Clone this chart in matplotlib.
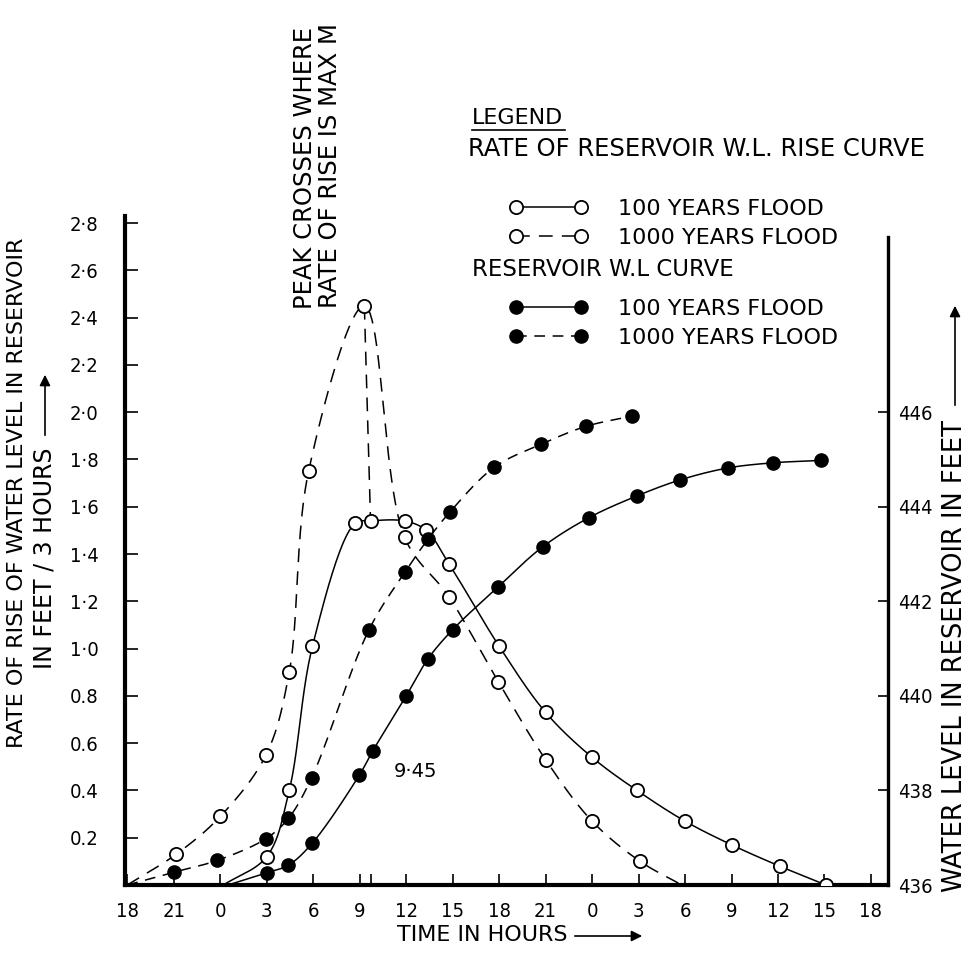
import numpy as np
import matplotlib.pyplot as plt
from matplotlib.lines import Line2D
from matplotlib.legend_handler import HandlerLine2D

plt.rcParams['font.family'] = ['DejaVu Sans']

# time axis in hours counted from 18:00 of the first day
hour_ticks = np.arange(0, 49, 3)
hour_labels = ['18', '21', '0', '3', '6', '9', '12', '15', '18',
               '21', '0', '3', '6', '9', '12', '15', '18']
rate_ticks = np.round(np.arange(0.2, 2.81, 0.2), 1)
rate_labels = ['0.2', '0.4', '0.6', '0.8', '1·0', '1·2', '1·4', '1·6',
               '1·8', '2·0', '2·2', '2·4', '2·6', '2·8']
level_ticks = [436, 438, 440, 442, 444, 446]

# rate of rise of water level, ft / 3 hours
t_rate100 = [6.2, 9.0, 10.45, 11.95, 14.7, 15.7, 17.9, 19.3, 20.75, 24.0,
             27.0, 30.0, 32.9, 36.0, 39.0, 42.1, 45.1]
rate100 = [0.0, 0.12, 0.40, 1.01, 1.53, 1.54, 1.54, 1.50, 1.36, 1.01,
           0.73, 0.54, 0.40, 0.27, 0.17, 0.08, 0.0]
t_rate1000 = [0.0, 3.15, 6.0, 8.95, 10.45, 11.7, 15.3, 17.9, 20.75, 23.95,
              27.0, 30.0, 33.1, 35.8]
rate1000 = [0.0, 0.13, 0.29, 0.55, 0.90, 1.75, 2.45, 1.47, 1.22, 0.86,
            0.53, 0.27, 0.10, 0.0]

# reservoir water level, ft
t_wl100 = [6.5, 9.0, 10.4, 11.95, 14.97, 15.85, 18.0, 19.4, 21.0, 23.95,
           26.8, 29.8, 32.9, 35.7, 38.75, 41.7, 44.75]
wl100 = [436.0, 436.26, 436.42, 436.89, 438.32, 438.84, 440.0, 440.78,
         441.40, 442.31, 443.15, 443.77, 444.23, 444.57, 444.82, 444.93, 444.98]
t_wl1000 = [0.0, 3.0, 5.8, 8.95, 10.4, 11.9, 15.6, 17.9, 19.4, 20.8,
            23.7, 26.7, 29.6, 32.6]
wl1000 = [436.0, 436.27, 436.52, 436.98, 437.41, 438.27, 441.40, 442.61,
          443.31, 443.88, 444.84, 445.32, 445.70, 445.92]

W, H = 975, 955


def px(x, y):
    return x / W, 1 - y / H


def smooth(x, y, sx, sy, n=24):
    # centripetal catmull-rom through the points (hand drawn look)
    P = np.column_stack([np.asarray(x, float) * sx, np.asarray(y, float) * sy])
    P = np.vstack([2 * P[0] - P[1], P, 2 * P[-1] - P[-2]])
    out = []
    for i in range(1, len(P) - 2):
        p0, p1, p2, p3 = P[i - 1], P[i], P[i + 1], P[i + 2]
        t0 = 0.0
        t1 = t0 + np.linalg.norm(p1 - p0) ** 0.5
        t2 = t1 + np.linalg.norm(p2 - p1) ** 0.5
        t3 = t2 + np.linalg.norm(p3 - p2) ** 0.5
        t = np.linspace(t1, t2, n, endpoint=False)[:, None]
        a1 = (t1 - t) / (t1 - t0) * p0 + (t - t0) / (t1 - t0) * p1
        a2 = (t2 - t) / (t2 - t1) * p1 + (t - t1) / (t2 - t1) * p2
        a3 = (t3 - t) / (t3 - t2) * p2 + (t - t2) / (t3 - t2) * p3
        b1 = (t2 - t) / (t2 - t0) * a1 + (t - t0) / (t2 - t0) * a2
        b2 = (t3 - t) / (t3 - t1) * a2 + (t - t1) / (t3 - t1) * a3
        out.append((t2 - t) / (t2 - t1) * b1 + (t - t1) / (t2 - t1) * b2)
    out.append(P[-2][None])
    out = np.vstack(out)
    return out[:, 0] / sx, out[:, 1] / sy


fig = plt.figure(figsize=(W / 100, H / 100), dpi=100)
fig.patch.set_facecolor('white')
l, b = px(125, 885)
ax = fig.add_axes([l, b, (888 - 125) / W, (885 - 216) / H])
ax.set_xlim(-0.15, 49.1)
ax.set_ylim(0, 2.83)
ax2 = ax.twinx()
ax2.set_ylim(436, 436 + 2.83 * 5)

sx = 15.49
sy = 236.4

open_m = dict(marker='o', ls='none', mfc='white', mec='black', mew=1.3, ms=9.5, zorder=4)
fill_m = dict(marker='o', ls='none', mfc='black', mec='black', mew=1.0, ms=9.5, zorder=4)

xs, ys = smooth(t_rate100, rate100, sx, sy)
l1, = ax.plot(xs, ys, '-', color='black', lw=1.1)
m1, = ax.plot(t_rate100[1:], rate100[1:], **open_m)

xs, ys = smooth(t_rate1000, rate1000, sx, sy)
l2, = ax.plot(xs, ys, color='black', lw=1.1, ls=(0, (9, 6)))
m2, = ax.plot(t_rate1000[1:-1], rate1000[1:-1], **open_m)

# peak of 1000 years flood dropped onto 100 years curve
i_pk = int(np.argmax(rate1000))
i_mx = 5
ax.plot([t_rate1000[i_pk], t_rate100[i_mx]], [rate1000[i_pk], rate100[i_mx]],
        color='black', lw=1.1, ls=(0, (9, 6)), zorder=2)

xs, ys = smooth(t_wl100, wl100, sx, sy / 5)
l3, = ax2.plot(xs, ys, '-', color='black', lw=1.1)
m3, = ax2.plot(t_wl100[1:], wl100[1:], **fill_m)

xs, ys = smooth(t_wl1000, wl1000, sx, sy / 5)
l4, = ax2.plot(xs, ys, color='black', lw=1.1, ls=(0, (7, 5)))
m4, = ax2.plot(t_wl1000[1:], wl1000[1:], **fill_m)

ax.text(18.6, 0.48, '9·45', ha='center', va='center', fontsize=14)

# axes
for s in ['top', 'right']:
    ax.spines[s].set_visible(False)
for s in ['top', 'left', 'bottom']:
    ax2.spines[s].set_visible(False)
ax.spines['left'].set_linewidth(3)
ax.spines['bottom'].set_linewidth(3)
ax2.spines['right'].set_linewidth(2.4)
ax2.spines['right'].set_bounds(436, 449.7)

ax.set_xticks(hour_ticks)
ax.set_xticklabels(hour_labels)
ax.set_xticks([15.75], minor=True)
ax.set_yticks(rate_ticks)
ax.set_yticklabels(rate_labels)
ax2.set_yticks(level_ticks)
ax.tick_params(axis='x', which='both', direction='in', length=8, width=1.2, pad=12, labelsize=14.5)
ax.tick_params(axis='y', direction='in', length=9, width=1.2, pad=19, labelsize=14.5)
ax2.tick_params(axis='y', direction='in', length=7, width=1.2, pad=7, labelsize=14.5)
for lab in ax.get_xticklabels() + ax.get_yticklabels() + ax2.get_yticklabels():
    lab.set_fontstretch('condensed')

# axis titles
fig.text(*px(17, 493), 'RATE OF RISE OF WATER LEVEL IN RESERVOIR',
         rotation=90, ha='center', va='center', fontsize=16)
fig.text(*px(45, 558), 'IN FEET / 3 HOURS',
         rotation=90, ha='center', va='center', fontsize=17)
fig.text(*px(955, 656), 'WATER LEVEL IN RESERVOIR IN FEET',
         rotation=90, ha='center', va='center', fontsize=18.5)
fig.text(*px(482, 935), 'TIME IN HOURS', ha='center', va='center', fontsize=16)

arrow = dict(arrowstyle='-|>', color='black', lw=1.2, mutation_scale=16)
ax.annotate('', xy=(45, H - 372), xytext=(45, H - 438), xycoords='figure pixels', arrowprops=arrow)
ax.annotate('', xy=(955, H - 303), xytext=(955, H - 408), xycoords='figure pixels', arrowprops=arrow)
ax.annotate('', xy=(645, H - 936), xytext=(572, H - 936), xycoords='figure pixels', arrowprops=arrow)

# peak note
fig.text(*px(305, 168), 'PEAK CROSSES WHERE', rotation=90, ha='center', va='center', fontsize=17.5)
fig.text(*px(330, 166), 'RATE OF RISE IS MAX M', rotation=90, ha='center', va='center', fontsize=17.5)

# legend block
fig.text(*px(472, 118), 'LEGEND', ha='left', va='center', fontsize=16)
fig.add_artist(Line2D([472 / W, 565 / W], [1 - 130 / H, 1 - 130 / H], color='black', lw=1.2))
fig.text(*px(468, 149), 'RATE OF RESERVOIR W.L. RISE CURVE', ha='left', va='center', fontsize=17.5)
fig.text(*px(472, 270), 'RESERVOIR W.L CURVE', ha='left', va='center', fontsize=16.5)

leg_kw = dict(loc='upper left', frameon=False, borderpad=0, borderaxespad=0,
              handlelength=5.1, handletextpad=0.55, labelspacing=0.4, numpoints=2,
              fontsize=16, handler_map={Line2D: HandlerLine2D(marker_pad=1.1)})
fig.legend([(l1, m1), (l2, m2)], ['100 YEARS FLOOD', '1000 YEARS FLOOD'],
           bbox_to_anchor=px(492, 199), **leg_kw)
fig.legend([(l3, m3), (l4, m4)], ['100 YEARS FLOOD', '1000 YEARS FLOOD'],
           bbox_to_anchor=px(492, 299), **leg_kw)

fig.savefig('out.png', dpi=100, facecolor='white')
